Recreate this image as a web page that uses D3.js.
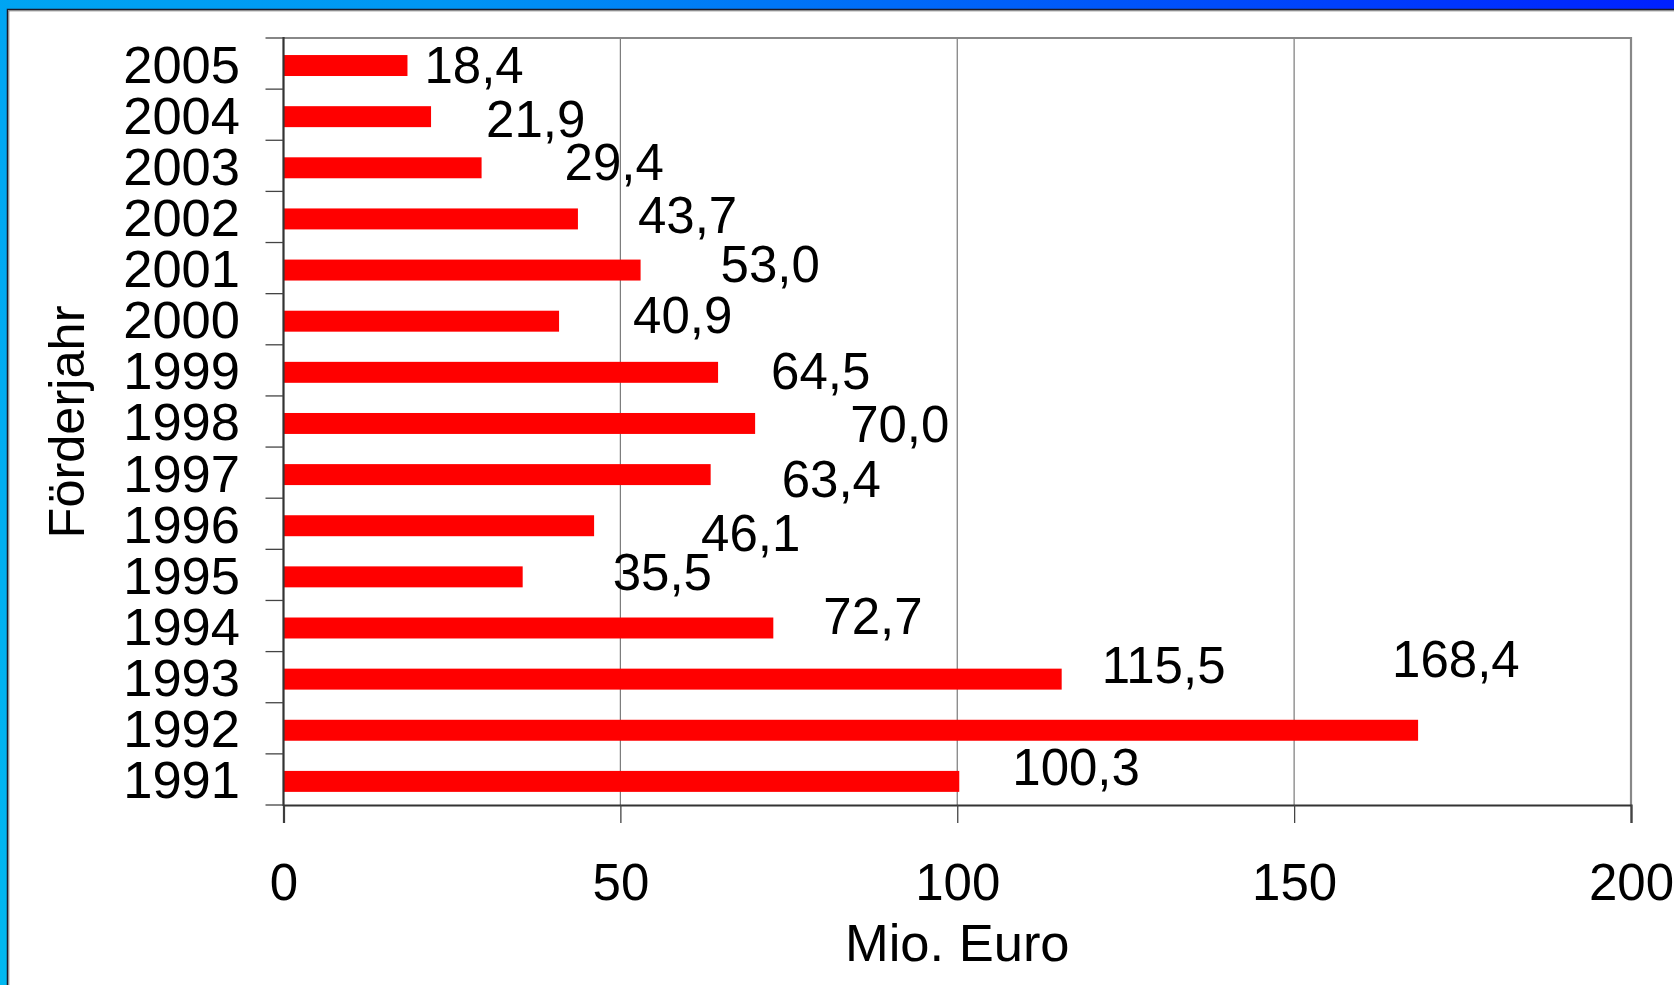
<!DOCTYPE html>
<html>
<head>
<meta charset="utf-8">
<script src="https://cdn.jsdelivr.net/npm/d3@7"></script>
<style>
  html, body { margin: 0; padding: 0; background: #fff; overflow: hidden; }
  svg { display: block; font-family: "Liberation Sans", Arial, sans-serif; }
</style>
</head>
<body>
<svg id="chart" width="1674" height="985"></svg>
<script>
// Fördermittel je Förderjahr (Mio. Euro)
const years = ["2005", "2004", "2003", "2002", "2001", "2000", "1999", "1998",
               "1997", "1996", "1995", "1994", "1993", "1992", "1991"];
const values = [18.4, 21.9, 29.4, 43.7, 53.0, 40.9, 64.5, 70.0,
                63.4, 46.1, 35.5, 72.7, 115.5, 168.4, 100.3];
const xTicks = [0, 50, 100, 150, 200];
const xTitle = "Mio. Euro";
const yTitle = "Förderjahr";

// Hand-placed value labels: offset from bar end (x) and bar centre (y), in px
const labelOffsets = [
  [17, 0], [55, 3], [83, -5], [60, -3], [80, -5], [74, -5], [53, 0], [95, 2],
  [71, 5], [107, 8], [90, -4], [50, -11], [40, -13], [-26, -70], [53, -13]
];

const W = 1674, H = 985;
const plot = { left: 283.5, right: 1631, top: 38, bottom: 805 };
const fontSize = 51;
const fmt = v => d3.format(".1f")(v).replace(".", ",");

const svg = d3.select("#chart");

// Blue frame with white panel
const defs = svg.append("defs");
const grad = defs.append("linearGradient")
  .attr("id", "frameGrad")
  .attr("gradientUnits", "userSpaceOnUse")
  .attr("x1", 0).attr("y1", H).attr("x2", W).attr("y2", 0);
grad.append("stop").attr("offset", "0%").attr("stop-color", "#00b8f0");
grad.append("stop").attr("offset", "45%").attr("stop-color", "#0096f4");
grad.append("stop").attr("offset", "100%").attr("stop-color", "#0020ff");

svg.append("rect").attr("width", W).attr("height", H).attr("fill", "url(#frameGrad)");
svg.append("rect").attr("x", 8).attr("y", 10).attr("width", W - 8).attr("height", H - 10).attr("fill", "#fff");
svg.append("path").attr("d", `M7.5,${H} V9.5 H${W}`)
  .attr("fill", "none").attr("stroke", "#1a1a2a").attr("stroke-width", 1.5);
svg.append("path").attr("d", `M8.8,${H} V10.8 H${W}`)
  .attr("fill", "none").attr("stroke", "#777").attr("stroke-width", 1);

// Scales
const x = d3.scaleLinear().domain([0, 200]).range([plot.left, plot.right]);
const y = d3.scaleBand().domain(years).range([plot.top, plot.bottom])
  .paddingInner(0.59).paddingOuter(0.295).align(0.565);
const step = y.step();

// Vertical gridlines
svg.append("g").selectAll("line")
  .data(xTicks.filter(t => t > 0 && t < 200))
  .join("line")
  .attr("x1", d => x(d)).attr("x2", d => x(d))
  .attr("y1", plot.top).attr("y2", plot.bottom)
  .attr("stroke", "#7a7a7a").attr("stroke-width", 1.2);

// Plot border: top and right in grey
svg.append("path")
  .attr("d", `M${plot.left},${plot.top} H${plot.right} V${plot.bottom}`)
  .attr("fill", "none").attr("stroke", "#888").attr("stroke-width", 2.2);

// Bars
svg.append("g").selectAll("rect")
  .data(values)
  .join("rect")
  .attr("x", x(0))
  .attr("y", (d, i) => y(years[i]))
  .attr("width", d => x(d) - x(0))
  .attr("height", y.bandwidth())
  .attr("fill", "#ff0000");

// X axis
const xAxis = d3.axisBottom(x).tickValues(xTicks).tickSize(18).tickPadding(0).tickFormat(d3.format("d"));
const gx = svg.append("g").attr("transform", `translate(0,${plot.bottom})`).call(xAxis);
gx.select(".domain").attr("stroke", "#333").attr("stroke-width", 2.2);
gx.selectAll(".tick line").attr("stroke", "#444").attr("stroke-width", 1.3);
gx.selectAll(".tick text")
  .attr("fill", "#000")
  .attr("font-size", fontSize)
  .attr("font-family", "Liberation Sans, Arial, sans-serif")
  .attr("dy", null)
  .attr("y", 95);

// Y axis: ticks sit between the bands
const gy = svg.append("g");
gy.append("line")
  .attr("x1", plot.left).attr("x2", plot.left)
  .attr("y1", plot.top - 1).attr("y2", plot.bottom + 1)
  .attr("stroke", "#333").attr("stroke-width", 2.2);
gy.selectAll("line.tk")
  .data(d3.range(years.length + 1))
  .join("line").attr("class", "tk")
  .attr("x1", plot.left - 18).attr("x2", plot.left)
  .attr("y1", i => plot.top + i * step).attr("y2", i => plot.top + i * step)
  .attr("stroke", "#444").attr("stroke-width", 1.3);
gy.selectAll("text")
  .data(years)
  .join("text")
  .attr("x", 240)
  .attr("y", d => y(d) + y.bandwidth() / 2 + 17)
  .attr("text-anchor", "end")
  .attr("font-size", 52.5)
  .attr("fill", "#000")
  .text(d => d);

// Value labels
svg.append("g").selectAll("text")
  .data(values)
  .join("text")
  .attr("x", (d, i) => x(d) + labelOffsets[i][0])
  .attr("y", (d, i) => y(years[i]) + y.bandwidth() / 2 + labelOffsets[i][1] + 17)
  .attr("font-size", fontSize)
  .attr("fill", "#000")
  .text(d => fmt(d));

// Axis titles
svg.append("text")
  .attr("x", (plot.left + plot.right) / 2)
  .attr("y", 961)
  .attr("text-anchor", "middle")
  .attr("font-size", 52.5)
  .attr("fill", "#000")
  .text(xTitle);

svg.append("text")
  .attr("transform", `translate(84,422) rotate(-90)`)
  .attr("text-anchor", "middle")
  .attr("font-size", 50.5)
  .attr("fill", "#000")
  .text(yTitle);
</script>
</body>
</html>
